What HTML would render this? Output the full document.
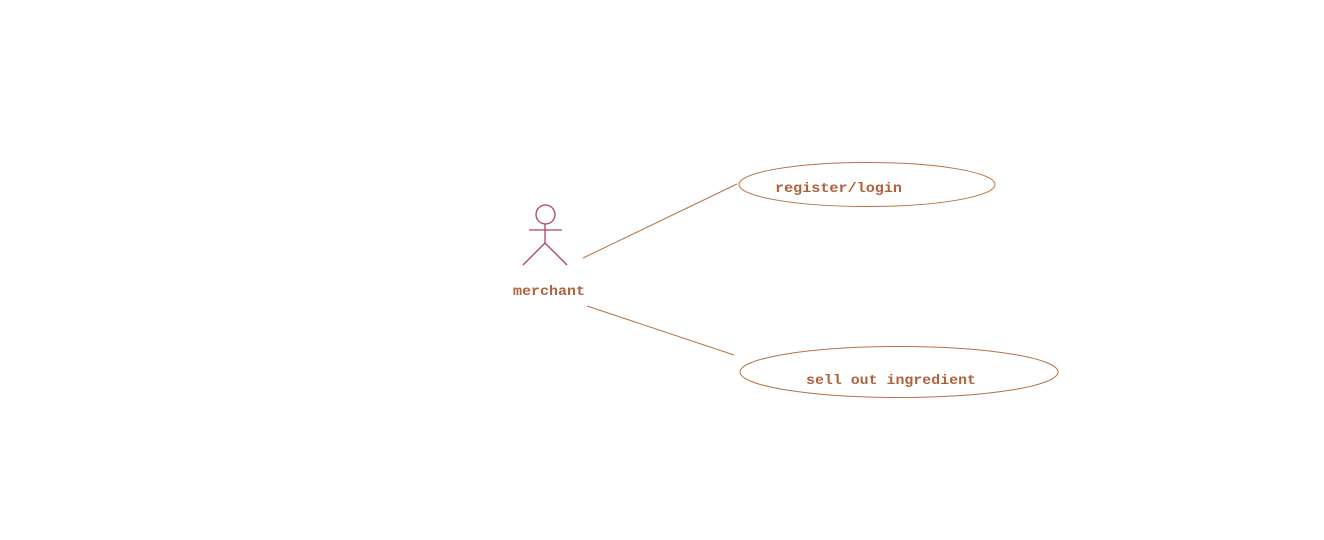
<!DOCTYPE html>
<html><head><style>body{margin:0;background:#fff}</style></head><body>
<svg width="1324" height="540" xmlns="http://www.w3.org/2000/svg" style="display:block">
<g stroke="#b0406a" stroke-width="1.3" fill="none">
<circle cx="545.5" cy="214.5" r="9.5"/>
<line x1="545" y1="224" x2="545" y2="243"/>
<line x1="529" y1="230" x2="562" y2="230"/>
<line x1="545" y1="243" x2="523" y2="265"/>
<line x1="545" y1="243" x2="567" y2="265"/>
</g>
<g stroke="#b87040" stroke-width="1" fill="none">
<line x1="583" y1="258" x2="737" y2="184"/>
<line x1="587" y1="306" x2="734" y2="355"/>
<ellipse cx="867" cy="184.5" rx="128" ry="22"/>
<ellipse cx="899" cy="372" rx="159" ry="25.5"/>
</g>
<g fill="#b0603a" font-family="Liberation Mono, monospace" font-weight="bold" font-size="14">
<text x="513" y="295" textLength="72" lengthAdjust="spacingAndGlyphs">merchant</text>
<text x="775" y="192" textLength="127" lengthAdjust="spacingAndGlyphs">register/login</text>
<text x="806" y="384" textLength="170" lengthAdjust="spacingAndGlyphs">sell out ingredient</text>
</g>
</svg>
</body></html>
